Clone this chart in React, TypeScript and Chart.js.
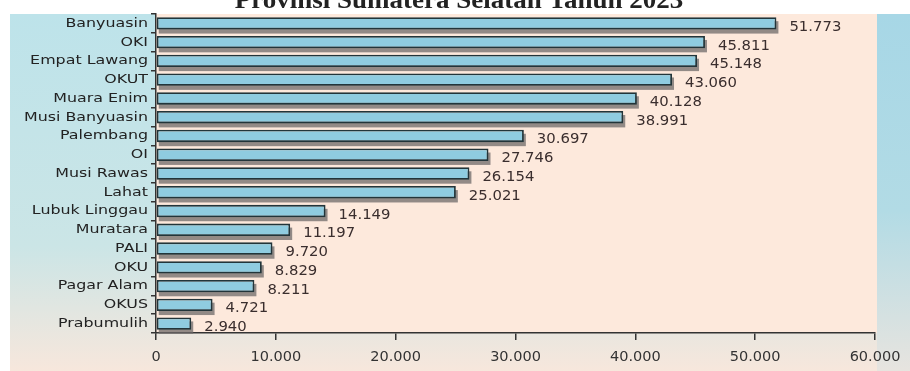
import React, { useEffect, useRef } from "react";
import { Chart, registerables } from "chart.js";

Chart.register(...registerables);

const titleText = "Provinsi Sumatera Selatan Tahun 2023";
const categories = [
  "Banyuasin", "OKI", "Empat Lawang", "OKUT", "Muara Enim", "Musi Banyuasin",
  "Palembang", "OI", "Musi Rawas", "Lahat", "Lubuk Linggau", "Muratara",
  "PALI", "OKU", "Pagar Alam", "OKUS", "Prabumulih",
];
const values = [
  51773, 45811, 45148, 43060, 40128, 38991, 30697, 27746, 26154, 25021,
  14149, 11197, 9720, 8829, 8211, 4721, 2940,
];
const xMin = 0;
const xMax = 60000;
const xStep = 10000;

const fmt = (v: number) => String(Math.round(v)).replace(/\B(?=(\d{3})+(?!\d))/g, ".");

const FONT = "'DejaVu Sans', sans-serif";

function stretchedText(ctx: any, text: string, x: number, y: number, sx: number, align: string) {
  ctx.save();
  ctx.translate(x, y);
  ctx.scale(sx, 1);
  ctx.textAlign = align;
  ctx.fillText(text, 0, 0);
  ctx.restore();
}

const bgPlugin = {
  id: "bgPlugin",
  beforeDraw(chart: any) {
    const { ctx, chartArea: a, width, height } = chart;
    ctx.save();
    const g = ctx.createLinearGradient(0, 14, 0, height);
    g.addColorStop(0, "#bde3ea");
    g.addColorStop(0.65, "#cbe5e6");
    g.addColorStop(1, "#f7e7dc");
    ctx.fillStyle = g;
    ctx.fillRect(10, 14, width - 10, height - 14);
    const g2 = ctx.createLinearGradient(0, 14, 0, height);
    g2.addColorStop(0, "#a7d7e6");
    g2.addColorStop(0.55, "#b2dbe5");
    g2.addColorStop(1, "#e7e4df");
    ctx.fillStyle = g2;
    ctx.fillRect(a.right + 2, 14, width - a.right - 2, height - 14);
    ctx.fillStyle = "#fde9dc";
    ctx.fillRect(a.left, a.top, a.right + 2 - a.left, a.bottom - a.top);
    ctx.fillStyle = "#222";
    ctx.font = `bold 25px 'Liberation Serif', serif`;
    ctx.textBaseline = "alphabetic";
    stretchedText(ctx, titleText, 459, 8, 1.08, "center");
    ctx.restore();
  },
  beforeDatasetsDraw(chart: any) {
    const ctx = chart.ctx;
    ctx.save();
    ctx.fillStyle = "rgba(110,105,105,0.75)";
    const meta = chart.getDatasetMeta(0);
    meta.data.forEach((bar: any) => {
      const h = bar.height;
      ctx.fillRect(bar.base + 2, bar.y - h / 2 + 4, bar.x - bar.base, h);
    });
    ctx.restore();
  },
  afterDatasetsDraw(chart: any) {
    const ctx = chart.ctx;
    ctx.save();
    ctx.fillStyle = "#3a2e2e";
    ctx.font = `13.5px ${FONT}`;
    ctx.textBaseline = "middle";
    const meta = chart.getDatasetMeta(0);
    meta.data.forEach((bar: any, i: number) => {
      stretchedText(ctx, fmt(values[i]), bar.x + 13, bar.y + 4, 1.1, "left");
    });
    ctx.fillStyle = "#222";
    ctx.font = `13px ${FONT}`;
    const yScale = chart.scales.y;
    categories.forEach((c, i) => {
      stretchedText(ctx, c, 148, yScale.getPixelForValue(i), 1.22, "right");
    });
    ctx.restore();
  },
};

export default function App() {
  const ref = useRef<HTMLCanvasElement>(null);
  useEffect(() => {
    if (!ref.current) return;
    const chart = new Chart(ref.current, {
      type: "bar",
      data: {
        labels: categories,
        datasets: [
          {
            data: values,
            backgroundColor: "#8fcce0",
            borderColor: "#22353a",
            borderWidth: 1.8,
            borderSkipped: false,
            categoryPercentage: 1,
            barPercentage: 0.66,
          },
        ],
      },
      options: {
        indexAxis: "y",
        responsive: false,
        animation: false,
        layout: { padding: { left: 10, top: 14, right: 35, bottom: 0 } },
        plugins: { legend: { display: false }, tooltip: { enabled: false }, title: { display: false } },
        scales: {
          x: {
            min: xMin,
            max: xMax,
            ticks: {
              stepSize: xStep,
              color: "#333",
              font: { family: FONT, size: 14.5 },
              padding: 9,
              maxRotation: 0,
              callback: (v: any) => fmt(Number(v)),
            },
            grid: { drawOnChartArea: false, drawTicks: true, tickLength: 7, color: "#333", lineWidth: 1.5 },
            border: { display: true, color: "#333", width: 1.5 },
            afterFit: (s: any) => { s.height = 38; },
          },
          y: {
            ticks: { color: "rgba(0,0,0,0)", font: { family: FONT, size: 13 }, padding: 3, autoSkip: false },
            grid: { drawOnChartArea: false, drawTicks: true, tickLength: 5, color: "#333", lineWidth: 1.5, offset: true },
            border: { display: true, color: "#333", width: 1.5 },
            afterFit: (s: any) => { s.width = 146; },
          },
        },
      },
      plugins: [bgPlugin],
    } as any);
    return () => chart.destroy();
  }, []);
  return (
    <div style={{ position: "absolute", left: 0, top: 0, width: 910, height: 371, background: "#fff" }}>
      <canvas ref={ref} width={910} height={371} style={{ display: "block" }} />
    </div>
  );
}
